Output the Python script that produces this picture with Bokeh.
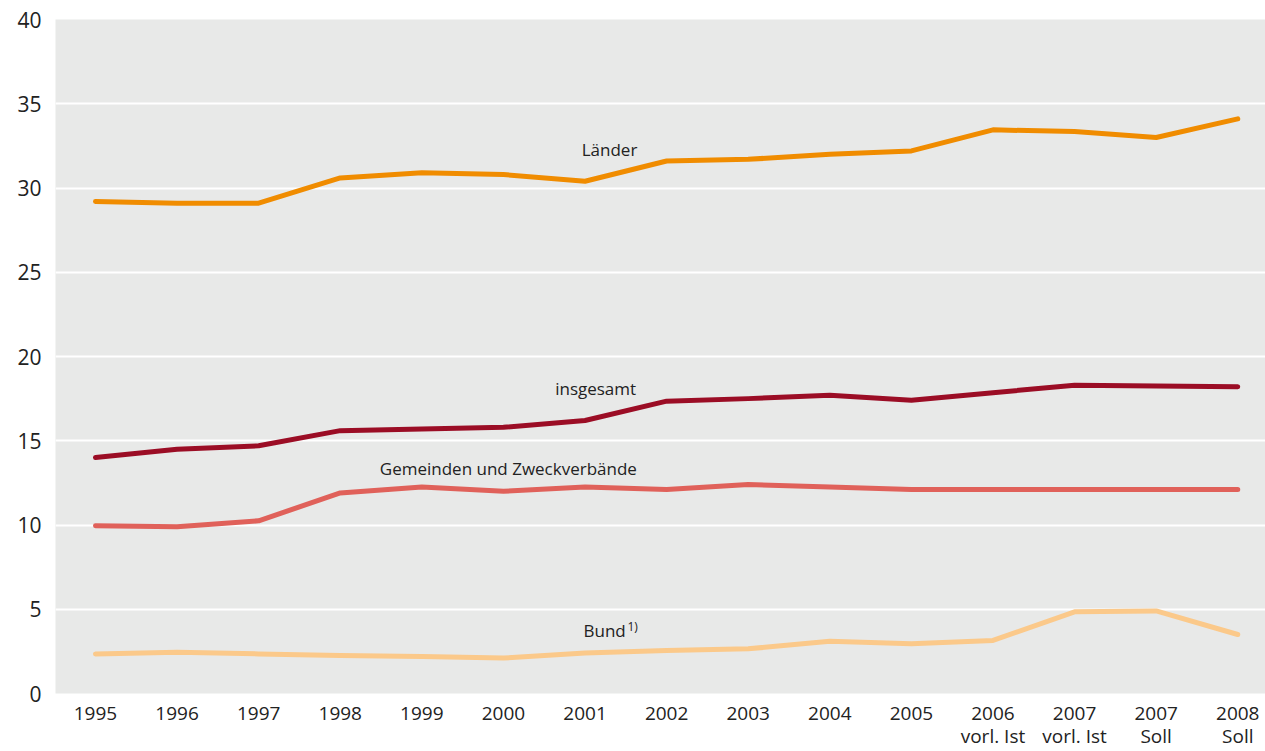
from bokeh.plotting import figure
from bokeh.models import Label, FixedTicker, Range1d, LinearAxis
from bokeh.embed import file_html
from bokeh.resources import INLINE

years = ["1995", "1996", "1997", "1998", "1999", "2000", "2001", "2002", "2003",
         "2004", "2005", "2006", "2007", "2007", "2008"]
year_notes = ["", "", "", "", "", "", "", "", "", "", "", "vorl. Ist", "vorl. Ist", "Soll", "Soll"]
laender = [29.2, 29.1, 29.1, 30.6, 30.9, 30.8, 30.4, 31.6, 31.7, 32.0, 32.2, 33.45, 33.35, 33.0, 34.1]
insgesamt = [14.0, 14.5, 14.7, 15.6, 15.7, 15.8, 16.2, 17.35, 17.5, 17.7, 17.4, 17.85, 18.3, 18.25, 18.2]
gemeinden = [9.95, 9.9, 10.25, 11.9, 12.25, 12.0, 12.25, 12.1, 12.4, 12.25, 12.1, 12.1, 12.1, 12.1, 12.1]
bund = [2.35, 2.45, 2.35, 2.25, 2.2, 2.1, 2.4, 2.55, 2.65, 3.1, 2.95, 3.15, 4.85, 4.9, 3.5]
y_ticks = [0, 5, 10, 15, 20, 25, 30, 35, 40]

x = list(range(len(years)))
FONT = "Open Sans"

p = figure(width=1265, height=751, output_backend="svg", toolbar_location=None,
           x_range=Range1d(-0.49, 14.34), y_range=Range1d(0, 40))
p.min_border_left = 55
p.min_border_top = 19
p.min_border_right = 0
p.min_border_bottom = 58
p.outline_line_color = None
p.background_fill_color = "#e8e9e8"
p.border_fill_color = "white"

p.xgrid.grid_line_color = None
p.ygrid.grid_line_color = "white"
p.ygrid.grid_line_width = 2
p.ygrid.ticker = FixedTicker(ticks=y_ticks)

p.yaxis.ticker = FixedTicker(ticks=y_ticks)
p.xaxis.ticker = FixedTicker(ticks=x)
p.xaxis.major_label_overrides = {i: c for i, c in enumerate(years)}

note_axis = LinearAxis(ticker=FixedTicker(ticks=x),
                       major_label_overrides={i: (c if c else " ") for i, c in enumerate(year_notes)})
p.add_layout(note_axis, "below")

for ax in (p.xaxis[0], p.yaxis[0], note_axis):
    ax.axis_line_color = None
    ax.major_tick_line_color = None
    ax.minor_tick_line_color = None
    ax.major_tick_out = 0
    ax.major_tick_in = 0
    ax.major_label_text_font = FONT
    ax.major_label_text_color = "#222222"
p.yaxis.major_label_text_font_size = "21px"
p.yaxis.major_label_standoff = 14
p.xaxis[0].major_label_text_font_size = "19px"
p.xaxis[0].major_label_standoff = 13
note_axis.major_label_text_font_size = "19px"
note_axis.major_label_standoff = 0

series = [
    (bund, "#fbc98a"),
    (gemeinden, "#e0615a"),
    (insgesamt, "#9b0d25"),
    (laender, "#f08c00"),
]
for vals, col in series:
    p.line(x, vals, line_color=col, line_width=5, line_cap="round", line_join="round")

labels = [
    ("Länder", 6.3, 32.3),
    ("insgesamt", 6.13, 18.1),
    ("Gemeinden und Zweckverbände", 5.06, 13.35),
    ("Bund", 6.24, 3.75),
]
for t, lx, ly in labels:
    p.add_layout(Label(x=lx, y=ly, text=t, text_font=FONT, text_font_size="17px",
                       text_color="#222222", text_align="center", text_baseline="middle"))
p.add_layout(Label(x=6.52, y=3.95, text="1)", text_font=FONT, text_font_size="12px",
                   text_color="#222222", text_align="left", text_baseline="middle"))

open("out.html", "w").write(file_html(p, INLINE))
